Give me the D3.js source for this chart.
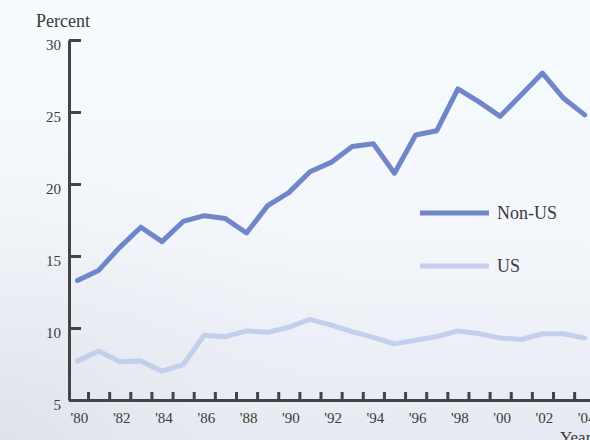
<!DOCTYPE html>
<html>
<head>
<meta charset="utf-8">
<script src="https://cdn.jsdelivr.net/npm/d3@7"></script>
<style>
  html, body { margin: 0; padding: 0; background: #f5fafd; }
  svg { display: block; }
  text { font-family: "Liberation Serif", "DejaVu Serif", serif; fill: #3a3a3a; }
</style>
</head>
<body>
<svg id="chart" width="590" height="440"></svg>
<script>
const years = d3.range(1980, 2005);
const nonUS = [13.3, 14.0, 15.6, 17.0, 16.0, 17.4, 17.8, 17.6, 16.6, 18.5, 19.4, 20.85, 21.5, 22.6, 22.8, 20.75, 23.4, 23.7, 26.6, 25.7, 24.7, 26.2, 27.7, 25.95, 24.8];
const us    = [7.7, 8.4, 7.65, 7.7, 7.0, 7.45, 9.5, 9.4, 9.8, 9.7, 10.05, 10.6, 10.2, 9.75, 9.35, 8.9, 9.15, 9.4, 9.8, 9.6, 9.3, 9.2, 9.6, 9.6, 9.3];
const yTicks = [5, 10, 15, 20, 25, 30];
const xTickYears = d3.range(1980.5, 2004, 1);
const xLabelYears = d3.range(1980, 2005, 2);
const seriesNames = ["Non-US", "US"];
const seriesColors = ["#6f86cb", "#c3cfec"];

const W = 590, H = 440;
const svg = d3.select("#chart");

// background
const defs = svg.append("defs");
const lg = defs.append("linearGradient").attr("id", "bg").attr("x1", 0).attr("y1", 0).attr("x2", 0).attr("y2", 1);
lg.append("stop").attr("offset", "0%").attr("stop-color", "#f6fbfe");
lg.append("stop").attr("offset", "55%").attr("stop-color", "#f3f7fb");
lg.append("stop").attr("offset", "100%").attr("stop-color", "#e6e9f1");
const rg = defs.append("radialGradient").attr("id", "bg2").attr("cx", 0).attr("cy", 1).attr("r", 0.7);
rg.append("stop").attr("offset", "0%").attr("stop-color", "#dde1ea").attr("stop-opacity", 0.9);
rg.append("stop").attr("offset", "100%").attr("stop-color", "#eef2f7").attr("stop-opacity", 0);
svg.append("rect").attr("width", W).attr("height", H).attr("fill", "url(#bg)");
svg.append("rect").attr("width", W).attr("height", H).attr("fill", "url(#bg2)");

const x = d3.scaleLinear().domain([1979.6, 2004.25]).range([69, 590]);
const y = d3.scaleLinear().domain([5, 30]).range([400, 40]);

// y axis
const yAxis = svg.append("g").attr("transform", `translate(${x(1979.6)},0)`)
  .call(d3.axisLeft(y).tickValues(yTicks).tickSizeInner(-12).tickSizeOuter(0).tickPadding(8).tickFormat(d3.format("d")));
yAxis.select(".domain").attr("stroke", "#444").attr("stroke-width", 3);
yAxis.selectAll(".tick line").attr("stroke", "#444").attr("stroke-width", 3);
yAxis.selectAll(".tick text").attr("font-size", 15).attr("fill", "#3a3a3a").attr("dy", "0.6em")
  .style("font-family", '"Liberation Serif", serif');

// x axis
const xAxis = svg.append("g").attr("transform", `translate(0,${y(5)})`)
  .call(d3.axisBottom(x).tickValues(xTickYears).tickSizeInner(-8).tickSizeOuter(0).tickFormat(""));
xAxis.select(".domain").attr("stroke", "#444").attr("stroke-width", 3);
xAxis.selectAll(".tick line").attr("stroke", "#444").attr("stroke-width", 3);

const xLab = svg.append("g").attr("transform", `translate(1.5,${y(5)})`)
  .call(d3.axisBottom(x).tickValues(xLabelYears).tickSize(0).tickPadding(12)
    .tickFormat(d => "'" + String(d).slice(2)));
xLab.select(".domain").remove();
xLab.selectAll(".tick text").attr("font-size", 15).attr("fill", "#3a3a3a")
  .style("font-family", '"Liberation Serif", serif');

// lines
const line = d3.line().x((d, i) => x(years[i])).y(d => y(d));
[us, nonUS].forEach((s, k) => {
  const idx = k === 0 ? 1 : 0;
  svg.append("path").datum(s).attr("d", line).attr("fill", "none")
    .attr("stroke", seriesColors[idx]).attr("stroke-width", 5)
    .attr("stroke-linejoin", "round").attr("stroke-linecap", "round");
});

// legend
const legendY = [213, 266];
seriesNames.forEach((name, i) => {
  svg.append("line").attr("x1", 420).attr("x2", 489).attr("y1", legendY[i]).attr("y2", legendY[i])
    .attr("stroke", seriesColors[i]).attr("stroke-width", 5);
  svg.append("text").attr("x", 497).attr("y", legendY[i] + 6).attr("font-size", 18).text(name);
});

// axis titles
svg.append("text").attr("x", 36).attr("y", 27).attr("font-size", 18).text("Percent");
svg.append("text").attr("x", 560).attr("y", 443).attr("font-size", 17).text("Year");
</script>
</body>
</html>
